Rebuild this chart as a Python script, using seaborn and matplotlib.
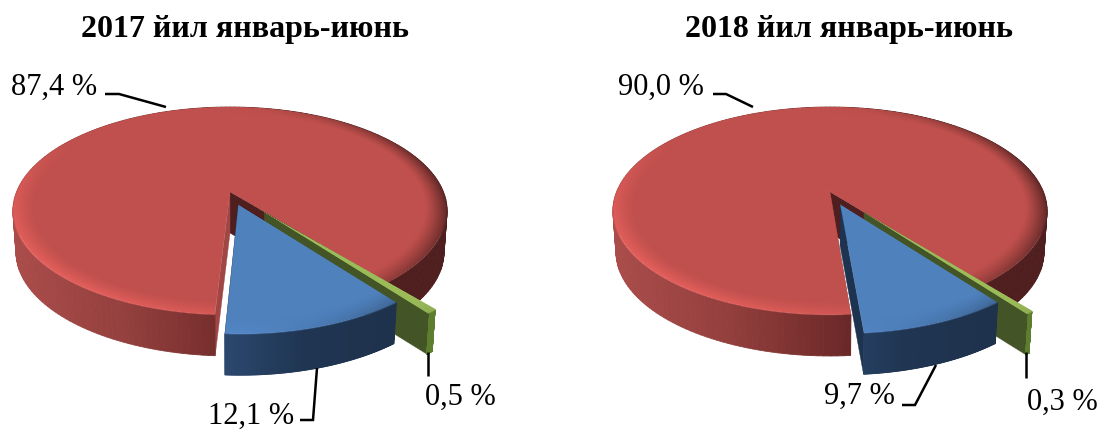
import numpy as np
import matplotlib
matplotlib.use("Agg")
import matplotlib.pyplot as plt
from matplotlib.collections import PolyCollection
from matplotlib.colors import to_rgb
import seaborn as sns

# ---- data ----
titles = ["2017 йил январь-июнь", "2018 йил январь-июнь"]
red_values = [87.4, 90.0]
blue_values = [12.1, 9.7]
green_values = [0.5, 0.3]

# ---- style / layout ----
palette = sns.color_palette(["#C0504D", "#4F81BD", "#9BBB59"])
sns.set_theme(style="white")
plt.rcParams["font.family"] = ["Liberation Serif", "DejaVu Serif"]

tip_xs = [230, 830]
tip_y = 192
first_angles = [-3.3, 4.6]
SPAN_SCALE = 0.94
K, A, B = 0.1827, 100.5, 213.4
DEPTH, SHRINK = 41, 0.986
EXPLODE_BLUE, EXPLODE_GREEN = 0.13, 0.25
title_xs = [245, 849]
big_pos = [(11, 87), (618, 87)]
blue_pos = [(208, 416), (824, 396)]
green_pos = [(425, 397), (1027, 402)]
big_lines = [[(105, 94), (119, 94), (166, 107)], [(713, 94), (726, 94), (753, 107)]]
blue_lines = [[(317, 368), (313, 420), (300, 420)], [(936, 365), (915, 405), (902, 405)]]
green_lines = [[(428, 352), (428, 376)], [(1026, 352), (1026, 378)]]

fig = plt.figure(figsize=(11.01, 4.30), dpi=100, facecolor="white")
ax = fig.add_axes([0, 0, 1, 1])
ax.set_axis_off()
ax.set_xlim(0, 1101)
ax.set_ylim(430, 0)
ax.autoscale(False)
z = [1]


def nextz():
    z[0] += 1
    return z[0]


def project(u, v, cx):
    s = 1 / (1 - K * np.asarray(v))
    return cx + B * np.asarray(u) * s, tip_y + A * np.asarray(v) * s


def rim(a1, a2, ou, ov, n=160):
    t = np.radians(np.linspace(a1, a2, n))
    return ou + np.sin(t), ov + np.cos(t)


def bottom(x, y, cx):
    return cx + (np.asarray(x) - cx) * SHRINK, np.asarray(y) + DEPTH


def draw_top(cx, a1, a2, ou, ov, color, up=0.2, down=0.5, band=0.10):
    """Shaded top face: a1..a2 is the wedge (may be reflex)."""
    xg = np.arange(cx - 240, cx + 240) + 0.5
    yg = np.arange(90, 345) + 0.5
    X, Y = np.meshgrid(xg - cx, yg - tip_y)
    v = Y / (A + K * Y)
    s = 1 / (1 - K * v)
    u = X / (B * s)
    du, dv = u - ou, v - ov
    r = np.hypot(du, dv)
    reflex = (a2 - a1) > 180
    e1, e2 = (a2 - 360, a1) if reflex else (a1, a2)
    t1, t2 = np.radians(e1), np.radians(e2)
    w = np.minimum(du * np.cos(t1) - dv * np.sin(t1), dv * np.sin(t2) - du * np.cos(t2))
    if reflex:
        w = -w
    alpha = np.clip(w * 200 + 0.5, 0, 1) * np.clip((1 - r) * 100 + 0.5, 0, 1)
    t = np.clip((r - (1 - band)) / band, 0, 1) ** 1.3
    ru, rv = du / np.maximum(r, 1e-6), dv / np.maximum(r, 1e-6)
    light = np.clip((-0.75 * ru + 0.66 * rv - 0.25) / 0.75, 0, 1)
    dark = np.clip(ru, 0, 1) ** 1.5
    gain = (up * light - down * dark) * t
    rgb = np.array(color)[None, None, :] * (1 + gain[..., None])
    img = np.dstack([np.clip(rgb, 0, 1), alpha])
    ax.imshow(img, extent=(xg[0] - 0.5, xg[-1] + 0.5, yg[-1] + 0.5, yg[0] - 0.5),
              aspect="auto", interpolation="nearest", zorder=nextz())


def draw_outer_wall(cx, a1, a2, ou, ov, stops):
    uu, vv = rim(a1, a2, ou, ov, 220)
    x, y = project(uu, vv, cx)
    xb, yb = bottom(x, y, cx)
    polys, cols = [], []
    pos = [p for p, _ in stops]
    chan = np.array([to_rgb(c) for _, c in stops])
    for i in range(len(x) - 1):
        polys.append([(x[i], y[i]), (x[i + 1], y[i + 1]), (xb[i + 1], yb[i + 1]), (xb[i], yb[i])])
        nx = (x[i] - cx) / 217
        cols.append([np.interp(nx, pos, chan[:, c]) for c in range(3)])
    ax.add_collection(PolyCollection(polys, facecolors=cols, edgecolors=cols, linewidths=0.6, zorder=nextz()))


def draw_cut_wall(cx, angle, ou, ov, color):
    t = np.radians(angle)
    x, y = project(np.array([ou, ou + np.sin(t)]), np.array([ov, ov + np.cos(t)]), cx)
    xb, yb = bottom(x, y, cx)
    ax.fill([x[0], x[1], xb[1], xb[0]], [y[0], y[1], yb[1], yb[0]], color=color, lw=0.3, zorder=nextz())


for i in range(2):
    cx = tip_xs[i]
    a0 = first_angles[i]
    total = red_values[i] + blue_values[i] + green_values[i]
    b = blue_values[i] / total * 360 * SPAN_SCALE
    g = green_values[i] / total * 360
    a_blue_end = a0 + b
    a_green_end = a_blue_end + g

    # red slice
    draw_cut_wall(cx, a_green_end, 0, 0, "#4f1e1e")
    draw_cut_wall(cx, a0 + 360, 0, 0, "#a04644")
    draw_outer_wall(cx, a_green_end, a0 + 360, 0, 0,
                    [(-1, "#aa4c4a"), (-0.5, "#94403e"), (0, "#702b2a"), (0.35, "#4f1e1e"), (1, "#4f1e1e")])
    draw_top(cx, a_green_end, a0 + 360, 0, 0, palette[0])

    # green slice
    mid = np.radians((a_blue_end + a_green_end) / 2)
    gu, gv = EXPLODE_GREEN * np.sin(mid), EXPLODE_GREEN * np.cos(mid)
    draw_cut_wall(cx, a_blue_end, gu, gv, "#435526")
    draw_outer_wall(cx, a_blue_end, a_green_end, gu, gv, [(-1, "#5f7d2e"), (1, "#5f7d2e")])
    draw_top(cx, a_blue_end - 0.4, a_green_end + 0.4, gu, gv, palette[2], up=0.0, down=0.15)

    # blue slice
    mid = np.radians((a0 + a_blue_end) / 2)
    bu, bv = EXPLODE_BLUE * np.sin(mid), EXPLODE_BLUE * np.cos(mid)
    draw_cut_wall(cx, a0, bu, bv, "#1e3350")
    draw_outer_wall(cx, a0, a_blue_end, bu, bv, [(-0.1, "#2e4c74"), (0.35, "#1f3552"), (1, "#1e3049")])
    draw_top(cx, a0, a_blue_end, bu, bv, palette[1], up=0.08, down=0.45)

    # text
    ax.text(title_xs[i], 30, titles[i], ha="center", va="center", fontsize=23, fontweight="bold", color="black",
            zorder=nextz())
    for val, pos in zip((red_values[i], blue_values[i], green_values[i]), (big_pos[i], blue_pos[i], green_pos[i])):
        label = f"{val:.1f}".replace(".", ",") + " %"
        ax.text(pos[0], pos[1], label, ha="left", va="center", fontsize=22, color="black", zorder=nextz())
    for line in (big_lines[i], blue_lines[i], green_lines[i]):
        xs, ys = zip(*line)
        ax.plot(xs, ys, color="black", lw=1.8, solid_joinstyle="miter", solid_capstyle="butt", zorder=nextz())

ax.set_xlim(0, 1101)
ax.set_ylim(430, 0)
fig.savefig("out.png", dpi=100, facecolor="white")
